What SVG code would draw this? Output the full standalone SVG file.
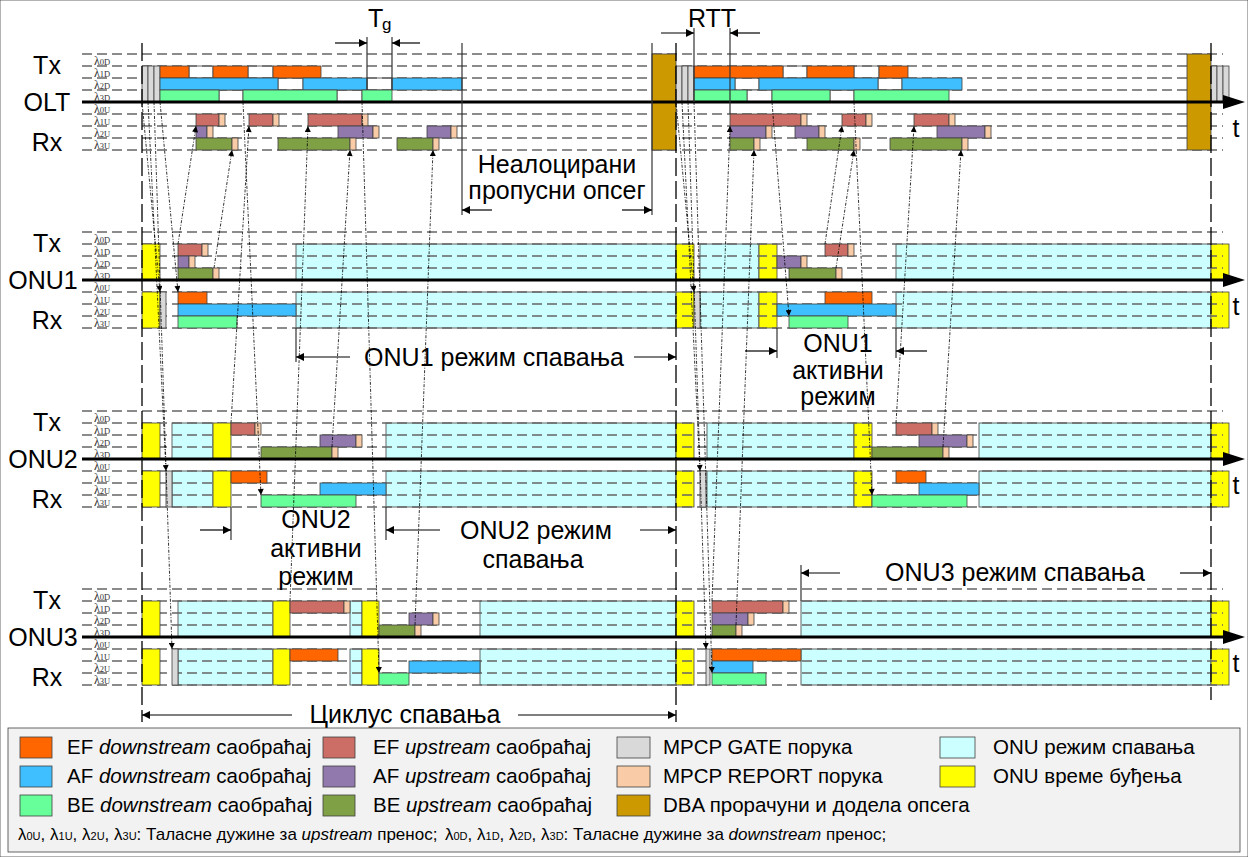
<svg xmlns="http://www.w3.org/2000/svg" width="1248" height="857" viewBox="0 0 1248 857">
<defs>
<style>
.dl{stroke:#666;stroke-width:1.3;stroke-dasharray:10 5;fill:none}
.ax{stroke:#000;stroke-width:3;fill:none}
.vd{stroke:#000;stroke-width:1.3;stroke-dasharray:18 5;fill:none}
.vs{stroke:#333;stroke-width:1.2;fill:none}
.cn{stroke:#000;stroke-width:0.8;stroke-dasharray:3 1.5 1 1.5;fill:none}
.an{stroke:#000;stroke-width:1.2;fill:none}
rect{stroke:#404040;stroke-width:0.8}
.o{fill:#FF6600}.bl{fill:#3FBFFF}.g{fill:#66FF99}
.r{fill:#CC6E66}.p{fill:#9179AE}.ol{fill:#80A045}
.gy{fill:#D9D9D9}.pc{fill:#F9CBA6}.db{fill:#CC9900}
.cy{fill:#CCFFFF}.y{fill:#FFFF00}.w{fill:#FFFFFF}
.big{font-family:"Liberation Sans",Arial,sans-serif;font-size:25px;fill:#000}
.lam{font-family:"Liberation Serif","Times New Roman",serif;font-size:12px;fill:#333}
.sub{font-size:8.5px}
.lg{font-family:"Liberation Sans",Arial,sans-serif;font-size:20.5px;fill:#000}
.lg4{font-family:"Liberation Sans",Arial,sans-serif;font-size:17px;fill:#000}
.s4{font-size:11px}
.it{font-style:italic}
</style>
<marker id="ah" viewBox="0 0 10 10" refX="10" refY="5" markerWidth="7" markerHeight="6" markerUnits="userSpaceOnUse" orient="auto"><path d="M0,0 L10,5 L0,10 z" fill="#000"/></marker>
<marker id="ha" viewBox="0 0 10 10" refX="10" refY="5" markerWidth="11" markerHeight="8" markerUnits="userSpaceOnUse" orient="auto"><path d="M0,0 L10,5 L0,10 z" fill="#000"/></marker>
</defs>
<rect x="0" y="0" width="1248" height="857" fill="#fff" stroke="none"/>

<!-- OLT -->
<g id="olt">
<rect class="w" x="189" y="66" width="24" height="12"/><rect class="w" x="248" y="66" width="25" height="12"/>
<rect class="w" x="278" y="78" width="25" height="12"/><rect class="w" x="367" y="78" width="25" height="12"/>
<rect class="w" x="219" y="90" width="24" height="12"/><rect class="w" x="337" y="90" width="25" height="12"/>
<rect class="w" x="783" y="66" width="24" height="12"/><rect class="w" x="854" y="66" width="25" height="12"/>
<rect class="w" x="735" y="78" width="24" height="12"/><rect class="w" x="878" y="78" width="24" height="12"/>
<rect class="w" x="747" y="90" width="25" height="12"/><rect class="w" x="830" y="90" width="24" height="12"/>
<g id="olt-lines">
<line class="dl" x1="82" y1="54" x2="1223" y2="54"/><line class="dl" x1="82" y1="66" x2="1223" y2="66"/>
<line class="dl" x1="82" y1="78" x2="1223" y2="78"/><line class="dl" x1="82" y1="90" x2="1223" y2="90"/>
<line class="dl" x1="82" y1="114" x2="1223" y2="114"/><line class="dl" x1="82" y1="126" x2="1223" y2="126"/>
<line class="dl" x1="82" y1="138" x2="1223" y2="138"/><line class="dl" x1="82" y1="150" x2="1223" y2="150"/>
</g>
<rect class="gy" x="142" y="66" width="6" height="36"/><rect class="gy" x="148" y="66" width="6" height="36"/><rect class="gy" x="154" y="66" width="6" height="36"/>
<rect class="o" x="160" y="66" width="29" height="12"/><rect class="o" x="213" y="66" width="35" height="12"/><rect class="o" x="273" y="66" width="48" height="12"/>
<rect class="bl" x="160" y="78" width="118" height="12"/><rect class="bl" x="303" y="78" width="64" height="12"/><rect class="bl" x="392" y="78" width="70" height="12"/>
<rect class="g" x="160" y="90" width="59" height="12"/><rect class="g" x="243" y="90" width="94" height="12"/><rect class="g" x="362" y="90" width="30" height="12"/>
<rect class="r" x="196" y="114" width="23" height="12"/><rect class="pc" x="219" y="114" width="6" height="12"/>
<rect class="r" x="249" y="114" width="24" height="12"/><rect class="pc" x="273" y="114" width="6" height="12"/>
<rect class="r" x="308" y="114" width="54" height="12"/><rect class="pc" x="362" y="114" width="6" height="12"/>
<rect class="p" x="196" y="126" width="11" height="12"/><rect class="pc" x="207" y="126" width="6" height="12"/>
<rect class="p" x="338" y="126" width="35" height="12"/><rect class="pc" x="373" y="126" width="6" height="12"/>
<rect class="p" x="427" y="126" width="24" height="12"/><rect class="pc" x="451" y="126" width="6" height="12"/>
<rect class="ol" x="196" y="138" width="36" height="12"/><rect class="pc" x="232" y="138" width="6" height="12"/>
<rect class="ol" x="278" y="138" width="72" height="12"/><rect class="pc" x="350" y="138" width="6" height="12"/>
<rect class="ol" x="397" y="138" width="36" height="12"/><rect class="pc" x="433" y="138" width="6" height="12"/>
<rect class="db" x="652" y="54" width="24" height="96"/>
<rect class="gy" x="676" y="66" width="6" height="36"/><rect class="gy" x="682" y="66" width="6" height="36"/><rect class="gy" x="688" y="66" width="6" height="36"/>
<rect class="o" x="694" y="66" width="89" height="12"/><rect class="o" x="807" y="66" width="47" height="12"/><rect class="o" x="879" y="66" width="29" height="12"/>
<rect class="bl" x="694" y="78" width="41" height="12"/><rect class="bl" x="759" y="78" width="119" height="12"/><rect class="bl" x="902" y="78" width="60" height="12"/>
<rect class="g" x="694" y="90" width="53" height="12"/><rect class="g" x="772" y="90" width="58" height="12"/><rect class="g" x="854" y="90" width="95" height="12"/>
<rect class="r" x="730" y="114" width="71" height="12"/><rect class="pc" x="801" y="114" width="6" height="12"/>
<rect class="r" x="842" y="114" width="24" height="12"/><rect class="pc" x="866" y="114" width="6" height="12"/>
<rect class="r" x="914" y="114" width="35" height="12"/><rect class="pc" x="949" y="114" width="6" height="12"/>
<rect class="p" x="730" y="126" width="36" height="12"/><rect class="pc" x="766" y="126" width="6" height="12"/>
<rect class="p" x="795" y="126" width="24" height="12"/><rect class="pc" x="819" y="126" width="6" height="12"/>
<rect class="p" x="937" y="126" width="48" height="12"/><rect class="pc" x="985" y="126" width="6" height="12"/>
<rect class="ol" x="730" y="138" width="24" height="12"/><rect class="pc" x="754" y="138" width="6" height="12"/>
<rect class="ol" x="807" y="138" width="47" height="12"/><rect class="pc" x="854" y="138" width="6" height="12"/>
<rect class="ol" x="890" y="138" width="72" height="12"/><rect class="pc" x="962" y="138" width="6" height="12"/>
<rect class="db" x="1187" y="54" width="24" height="96"/>
<rect class="gy" x="1211" y="66" width="6" height="36"/><rect class="gy" x="1217" y="66" width="6" height="36"/><rect class="gy" x="1223" y="66" width="6" height="36"/>
<line class="ax" x1="82" y1="102" x2="1225" y2="102"/><polygon points="1223,95 1245,102 1223,109" fill="#000"/>
<text class="big" x="47" y="74" text-anchor="middle">Tx</text>
<text class="big" x="47" y="111" text-anchor="middle">OLT</text>
<text class="big" x="47" y="151" text-anchor="middle">Rx</text>
<text class="big" x="1236" y="137" text-anchor="middle">t</text>
<text class="lam" x="94" y="65">λ<tspan class="sub">0D</tspan></text>
<text class="lam" x="94" y="77">λ<tspan class="sub">1D</tspan></text>
<text class="lam" x="94" y="89">λ<tspan class="sub">2D</tspan></text>
<text class="lam" x="94" y="101">λ<tspan class="sub">3D</tspan></text>
<text class="lam" x="94" y="113">λ<tspan class="sub">0U</tspan></text>
<text class="lam" x="94" y="125">λ<tspan class="sub">1U</tspan></text>
<text class="lam" x="94" y="137">λ<tspan class="sub">2U</tspan></text>
<text class="lam" x="94" y="149">λ<tspan class="sub">3U</tspan></text>
</g>

<!-- ONU1 -->
<g id="onu1">
<rect class="cy" x="296" y="244" width="380" height="36"/><rect class="cy" x="296" y="292" width="380" height="36"/>
<rect class="y" x="676" y="244" width="18" height="36"/><rect class="y" x="676" y="292" width="18" height="36"/>
<rect class="cy" x="700" y="244" width="59" height="36"/><rect class="cy" x="700" y="292" width="59" height="36"/>
<rect class="y" x="759" y="244" width="18" height="36"/><rect class="y" x="759" y="292" width="18" height="36"/>
<rect class="cy" x="896" y="244" width="315" height="36"/><rect class="cy" x="896" y="292" width="315" height="36"/>
<rect class="y" x="1211" y="244" width="18" height="36"/><rect class="y" x="1211" y="292" width="18" height="36"/>
<g id="onu1-lines">
<line class="dl" x1="82" y1="232" x2="1223" y2="232"/><line class="dl" x1="82" y1="244" x2="1223" y2="244"/>
<line class="dl" x1="82" y1="256" x2="1223" y2="256"/><line class="dl" x1="82" y1="268" x2="1223" y2="268"/>
<line class="dl" x1="82" y1="292" x2="1223" y2="292"/><line class="dl" x1="82" y1="304" x2="1223" y2="304"/>
<line class="dl" x1="82" y1="316" x2="1223" y2="316"/><line class="dl" x1="82" y1="328" x2="1223" y2="328"/>
</g>
<rect class="y" x="142" y="244" width="18" height="36"/><rect class="y" x="142" y="292" width="18" height="36"/>
<rect class="gy" x="160" y="292" width="6" height="36"/>
<rect class="gy" x="694" y="292" width="6" height="36"/>
<rect class="r" x="178" y="244" width="24" height="12"/><rect class="pc" x="202" y="244" width="6" height="12"/>
<rect class="p" x="178" y="256" width="11" height="12"/><rect class="pc" x="189" y="256" width="6" height="12"/>
<rect class="ol" x="178" y="268" width="35" height="12"/><rect class="pc" x="213" y="268" width="6" height="12"/>
<rect class="o" x="178" y="292" width="29" height="12"/>
<rect class="bl" x="178" y="304" width="118" height="12"/>
<rect class="g" x="178" y="316" width="59" height="12"/>
<rect class="p" x="777" y="256" width="24" height="12"/><rect class="pc" x="801" y="256" width="6" height="12"/>
<rect class="ol" x="789" y="268" width="47" height="12"/><rect class="pc" x="836" y="268" width="6" height="12"/>
<rect class="r" x="825" y="244" width="23" height="12"/><rect class="pc" x="848" y="244" width="6" height="12"/>
<rect class="o" x="825" y="292" width="47" height="12"/>
<rect class="bl" x="777" y="304" width="119" height="12"/>
<rect class="g" x="789" y="316" width="59" height="12"/>
<line class="ax" x1="82" y1="280" x2="1225" y2="280"/><polygon points="1223,273 1245,280 1223,287" fill="#000"/>
<text class="big" x="47" y="252" text-anchor="middle">Tx</text>
<text class="big" x="43" y="289" text-anchor="middle">ONU1</text>
<text class="big" x="47" y="329" text-anchor="middle">Rx</text>
<text class="big" x="1236" y="315" text-anchor="middle">t</text>
<text class="lam" x="94" y="243">λ<tspan class="sub">0D</tspan></text>
<text class="lam" x="94" y="255">λ<tspan class="sub">1D</tspan></text>
<text class="lam" x="94" y="267">λ<tspan class="sub">2D</tspan></text>
<text class="lam" x="94" y="279">λ<tspan class="sub">3D</tspan></text>
<text class="lam" x="94" y="291">λ<tspan class="sub">0U</tspan></text>
<text class="lam" x="94" y="303">λ<tspan class="sub">1U</tspan></text>
<text class="lam" x="94" y="315">λ<tspan class="sub">2U</tspan></text>
<text class="lam" x="94" y="327">λ<tspan class="sub">3U</tspan></text>
</g>

<!-- ONU2 -->
<g id="onu2">
<rect class="cy" x="172" y="423" width="41" height="36"/><rect class="cy" x="172" y="471" width="41" height="36"/>
<rect class="cy" x="386" y="423" width="290" height="36"/><rect class="cy" x="386" y="471" width="290" height="36"/>
<rect class="y" x="676" y="423" width="18" height="36"/><rect class="y" x="676" y="471" width="18" height="36"/>
<rect class="cy" x="707" y="423" width="147" height="36"/><rect class="cy" x="707" y="471" width="147" height="36"/>
<rect class="y" x="854" y="423" width="18" height="36"/><rect class="y" x="854" y="471" width="18" height="36"/>
<rect class="cy" x="979" y="423" width="232" height="36"/><rect class="cy" x="979" y="471" width="232" height="36"/>
<rect class="y" x="1211" y="423" width="18" height="36"/><rect class="y" x="1211" y="471" width="18" height="36"/>
<g id="onu2-lines">
<line class="dl" x1="82" y1="411" x2="1223" y2="411"/><line class="dl" x1="82" y1="423" x2="1223" y2="423"/>
<line class="dl" x1="82" y1="435" x2="1223" y2="435"/><line class="dl" x1="82" y1="447" x2="1223" y2="447"/>
<line class="dl" x1="82" y1="471" x2="1223" y2="471"/><line class="dl" x1="82" y1="483" x2="1223" y2="483"/>
<line class="dl" x1="82" y1="495" x2="1223" y2="495"/><line class="dl" x1="82" y1="507" x2="1223" y2="507"/>
</g>
<rect class="y" x="142" y="423" width="18" height="36"/><rect class="y" x="142" y="471" width="18" height="36"/>
<rect class="gy" x="166" y="471" width="6" height="36"/>
<rect class="y" x="213" y="423" width="18" height="36"/><rect class="y" x="213" y="471" width="18" height="36"/>
<rect class="gy" x="700" y="471" width="6" height="36"/>
<rect class="r" x="231" y="423" width="24" height="12"/><rect class="pc" x="255" y="423" width="6" height="12"/>
<rect class="p" x="320" y="435" width="36" height="12"/><rect class="pc" x="356" y="435" width="6" height="12"/>
<rect class="ol" x="261" y="447" width="71" height="12"/><rect class="pc" x="332" y="447" width="6" height="12"/>
<rect class="o" x="231" y="471" width="36" height="12"/>
<rect class="bl" x="320" y="483" width="66" height="12"/>
<rect class="g" x="261" y="495" width="95" height="12"/>
<rect class="r" x="896" y="423" width="36" height="12"/><rect class="pc" x="932" y="423" width="6" height="12"/>
<rect class="p" x="919" y="435" width="48" height="12"/><rect class="pc" x="967" y="435" width="6" height="12"/>
<rect class="ol" x="872" y="447" width="71" height="12"/><rect class="pc" x="943" y="447" width="6" height="12"/>
<rect class="o" x="896" y="471" width="30" height="12"/>
<rect class="bl" x="919" y="483" width="60" height="12"/>
<rect class="g" x="872" y="495" width="95" height="12"/>
<line class="ax" x1="82" y1="459" x2="1225" y2="459"/><polygon points="1223,452 1245,459 1223,466" fill="#000"/>
<text class="big" x="47" y="431" text-anchor="middle">Tx</text>
<text class="big" x="43" y="468" text-anchor="middle">ONU2</text>
<text class="big" x="47" y="508" text-anchor="middle">Rx</text>
<text class="big" x="1236" y="494" text-anchor="middle">t</text>
<text class="lam" x="94" y="422">λ<tspan class="sub">0D</tspan></text>
<text class="lam" x="94" y="434">λ<tspan class="sub">1D</tspan></text>
<text class="lam" x="94" y="446">λ<tspan class="sub">2D</tspan></text>
<text class="lam" x="94" y="458">λ<tspan class="sub">3D</tspan></text>
<text class="lam" x="94" y="470">λ<tspan class="sub">0U</tspan></text>
<text class="lam" x="94" y="482">λ<tspan class="sub">1U</tspan></text>
<text class="lam" x="94" y="494">λ<tspan class="sub">2U</tspan></text>
<text class="lam" x="94" y="506">λ<tspan class="sub">3U</tspan></text>
</g>

<!-- ONU3 -->
<g id="onu3">
<rect class="cy" x="178" y="601" width="95" height="36"/><rect class="cy" x="178" y="649" width="95" height="36"/>
<rect class="cy" x="350" y="601" width="12" height="36"/><rect class="cy" x="350" y="649" width="12" height="36"/>
<rect class="cy" x="480" y="601" width="196" height="36"/><rect class="cy" x="480" y="649" width="196" height="36"/>
<rect class="y" x="676" y="601" width="18" height="36"/><rect class="y" x="676" y="649" width="18" height="36"/>
<rect class="cy" x="801" y="601" width="410" height="36"/><rect class="cy" x="801" y="649" width="410" height="36"/>
<rect class="y" x="1211" y="601" width="18" height="36"/><rect class="y" x="1211" y="649" width="18" height="36"/>
<g id="onu3-lines">
<line class="dl" x1="82" y1="589" x2="1223" y2="589"/><line class="dl" x1="82" y1="601" x2="1223" y2="601"/>
<line class="dl" x1="82" y1="613" x2="1223" y2="613"/><line class="dl" x1="82" y1="625" x2="1223" y2="625"/>
<line class="dl" x1="82" y1="649" x2="1223" y2="649"/><line class="dl" x1="82" y1="661" x2="1223" y2="661"/>
<line class="dl" x1="82" y1="673" x2="1223" y2="673"/><line class="dl" x1="82" y1="685" x2="1223" y2="685"/>
</g>
<rect class="y" x="142" y="601" width="18" height="36"/><rect class="y" x="142" y="649" width="18" height="36"/>
<rect class="gy" x="172" y="649" width="6" height="36"/>
<rect class="y" x="273" y="601" width="17" height="36"/><rect class="y" x="273" y="649" width="17" height="36"/>
<rect class="y" x="362" y="601" width="17" height="36"/><rect class="y" x="362" y="649" width="17" height="36"/>
<rect class="gy" x="706" y="649" width="4" height="36"/>
<rect class="r" x="290" y="601" width="54" height="12"/><rect class="pc" x="344" y="601" width="6" height="12"/>
<rect class="ol" x="379" y="625" width="36" height="12"/><rect class="pc" x="415" y="625" width="6" height="12"/>
<rect class="p" x="409" y="613" width="24" height="12"/><rect class="pc" x="433" y="613" width="6" height="12"/>
<rect class="o" x="290" y="649" width="48" height="12"/>
<rect class="g" x="379" y="673" width="30" height="12"/>
<rect class="bl" x="409" y="661" width="71" height="12"/>
<rect class="r" x="712" y="601" width="71" height="12"/><rect class="pc" x="783" y="601" width="6" height="12"/>
<rect class="p" x="712" y="613" width="36" height="12"/><rect class="pc" x="748" y="613" width="6" height="12"/>
<rect class="ol" x="712" y="625" width="24" height="12"/><rect class="pc" x="736" y="625" width="6" height="12"/>
<rect class="o" x="712" y="649" width="89" height="12"/>
<rect class="bl" x="712" y="661" width="41" height="12"/>
<rect class="g" x="712" y="673" width="54" height="12"/>
<line class="ax" x1="82" y1="637" x2="1225" y2="637"/><polygon points="1223,630 1245,637 1223,644" fill="#000"/>
<text class="big" x="47" y="609" text-anchor="middle">Tx</text>
<text class="big" x="43" y="646" text-anchor="middle">ONU3</text>
<text class="big" x="47" y="686" text-anchor="middle">Rx</text>
<text class="big" x="1236" y="672" text-anchor="middle">t</text>
<text class="lam" x="94" y="600">λ<tspan class="sub">0D</tspan></text>
<text class="lam" x="94" y="612">λ<tspan class="sub">1D</tspan></text>
<text class="lam" x="94" y="624">λ<tspan class="sub">2D</tspan></text>
<text class="lam" x="94" y="636">λ<tspan class="sub">3D</tspan></text>
<text class="lam" x="94" y="648">λ<tspan class="sub">0U</tspan></text>
<text class="lam" x="94" y="660">λ<tspan class="sub">1U</tspan></text>
<text class="lam" x="94" y="672">λ<tspan class="sub">2U</tspan></text>
<text class="lam" x="94" y="684">λ<tspan class="sub">3U</tspan></text>
</g>

<!-- vertical guides -->
<g id="guides">
<line class="vd" x1="142" y1="43" x2="142" y2="722"/>
<line class="vd" x1="676" y1="43" x2="676" y2="722"/>
<line class="vd" x1="1211" y1="43" x2="1211" y2="700"/>
<line class="vs" x1="462" y1="43" x2="462" y2="215"/>
<line class="vs" x1="652" y1="43" x2="652" y2="215"/>
<line class="vs" x1="367" y1="37" x2="367" y2="90"/>
<line class="vs" x1="392" y1="37" x2="392" y2="90"/>
<line class="vs" x1="694" y1="28" x2="694" y2="102"/>
<line class="vs" x1="730" y1="28" x2="730" y2="114"/>
<line class="vs" x1="296" y1="328" x2="296" y2="362"/>
<line class="vs" x1="777" y1="328" x2="777" y2="358"/>
<line class="vs" x1="896" y1="328" x2="896" y2="358"/>
<line class="vs" x1="231" y1="507" x2="231" y2="540"/>
<line class="vs" x1="386" y1="507" x2="386" y2="540"/>
<line class="vs" x1="801" y1="565" x2="801" y2="601"/>
</g>

<!-- annotations -->
<g id="annotations">
<line class="an" x1="335" y1="43" x2="367" y2="43" marker-end="url(#ha)"/>
<line class="an" x1="420" y1="43" x2="392" y2="43" marker-end="url(#ha)"/>
<text class="big" x="368" y="27">T</text><text class="big" x="382" y="30" style="font-size:17px">g</text>
<line class="an" x1="661" y1="33" x2="694" y2="33" marker-end="url(#ha)"/>
<line class="an" x1="760" y1="33" x2="730" y2="33" marker-end="url(#ha)"/>
<text class="big" x="712" y="27" text-anchor="middle">RTT</text>
<text class="big" x="557" y="173" text-anchor="middle">Неалоцирани</text>
<text class="big" x="557" y="199" text-anchor="middle">пропусни опсег</text>
<line class="an" x1="492" y1="210" x2="462" y2="210" marker-end="url(#ha)"/>
<line class="an" x1="622" y1="210" x2="652" y2="210" marker-end="url(#ha)"/>
<line class="an" x1="350" y1="357" x2="296" y2="357" marker-end="url(#ha)"/>
<line class="an" x1="634" y1="357" x2="676" y2="357" marker-end="url(#ha)"/>
<text class="big" x="494" y="366" text-anchor="middle">ONU1 режим спавања</text>
<line class="an" x1="745" y1="351" x2="777" y2="351" marker-end="url(#ha)"/>
<line class="an" x1="927" y1="351" x2="896" y2="351" marker-end="url(#ha)"/>
<text class="big" x="838" y="352" text-anchor="middle">ONU1</text>
<text class="big" x="838" y="379" text-anchor="middle">активни</text>
<text class="big" x="838" y="405" text-anchor="middle">режим</text>
<line class="an" x1="200" y1="530" x2="231" y2="530" marker-end="url(#ha)"/>
<text class="big" x="316" y="528" text-anchor="middle">ONU2</text>
<text class="big" x="316" y="557" text-anchor="middle">активни</text>
<text class="big" x="316" y="585" text-anchor="middle">режим</text>
<line class="an" x1="440" y1="530" x2="386" y2="530" marker-end="url(#ha)"/>
<line class="an" x1="640" y1="530" x2="676" y2="530" marker-end="url(#ha)"/>
<text class="big" x="536" y="539" text-anchor="middle">ONU2 режим</text>
<text class="big" x="533" y="568" text-anchor="middle">спавања</text>
<line class="an" x1="840" y1="573" x2="801" y2="573" marker-end="url(#ha)"/>
<line class="an" x1="1180" y1="573" x2="1211" y2="573" marker-end="url(#ha)"/>
<text class="big" x="1015" y="581" text-anchor="middle">ONU3 режим спавања</text>
<line class="an" x1="292" y1="715" x2="142" y2="715" marker-end="url(#ha)"/>
<line class="an" x1="518" y1="715" x2="676" y2="715" marker-end="url(#ha)"/>
<text class="big" x="405" y="723" text-anchor="middle">Циклус спавања</text>
</g>

<!-- connectors -->
<g id="connectors">
<line class="cn" x1="142" y1="102" x2="160" y2="292" marker-end="url(#ah)"/>
<line class="cn" x1="148" y1="102" x2="166" y2="471" marker-end="url(#ah)"/>
<line class="cn" x1="154" y1="102" x2="172" y2="649" marker-end="url(#ah)"/>
<line class="cn" x1="160" y1="102" x2="178" y2="292" marker-end="url(#ah)"/>
<line class="cn" x1="243" y1="102" x2="261" y2="495" marker-end="url(#ah)"/>
<line class="cn" x1="362" y1="102" x2="379" y2="673" marker-end="url(#ah)"/>
<line class="cn" x1="676" y1="102" x2="694" y2="292" marker-end="url(#ah)"/>
<line class="cn" x1="682" y1="102" x2="700" y2="471" marker-end="url(#ah)"/>
<line class="cn" x1="688" y1="102" x2="706" y2="649" marker-end="url(#ah)"/>
<line class="cn" x1="694" y1="102" x2="712" y2="673" marker-end="url(#ah)"/>
<line class="cn" x1="772" y1="102" x2="789" y2="316" marker-end="url(#ah)"/>
<line class="cn" x1="854" y1="102" x2="872" y2="495" marker-end="url(#ah)"/>
<line class="cn" x1="178" y1="244" x2="196" y2="126" marker-end="url(#ah)"/>
<line class="cn" x1="214" y1="268" x2="232" y2="150" marker-end="url(#ah)"/>
<line class="cn" x1="231" y1="423" x2="249" y2="126" marker-end="url(#ah)"/>
<line class="cn" x1="290" y1="601" x2="308" y2="126" marker-end="url(#ah)"/>
<line class="cn" x1="332" y1="447" x2="350" y2="150" marker-end="url(#ah)"/>
<line class="cn" x1="415" y1="625" x2="433" y2="150" marker-end="url(#ah)"/>
<line class="cn" x1="712" y1="601" x2="730" y2="126" marker-end="url(#ah)"/>
<line class="cn" x1="736" y1="625" x2="754" y2="150" marker-end="url(#ah)"/>
<line class="cn" x1="825" y1="244" x2="842" y2="126" marker-end="url(#ah)"/>
<line class="cn" x1="836" y1="268" x2="854" y2="150" marker-end="url(#ah)"/>
<line class="cn" x1="896" y1="423" x2="914" y2="126" marker-end="url(#ah)"/>
<line class="cn" x1="943" y1="447" x2="961" y2="150" marker-end="url(#ah)"/>
</g>

<!-- legend -->
<g id="legend">
<rect x="8" y="728" width="1232" height="124" fill="#F2F2F2" stroke="#999" stroke-width="1"/>
<rect class="o" x="20" y="737" width="32" height="21"/><text class="lg" x="67" y="754">EF <tspan class="it">downstream</tspan> саобраћај</text>
<rect class="bl" x="20" y="766" width="32" height="21"/><text class="lg" x="67" y="783">AF <tspan class="it">downstream</tspan> саобраћај</text>
<rect class="g" x="20" y="795" width="32" height="21"/><text class="lg" x="67" y="812">BE <tspan class="it">downstream</tspan> саобраћај</text>
<rect class="r" x="323" y="737" width="32" height="21"/><text class="lg" x="373" y="754">EF <tspan class="it">upstream</tspan> саобраћај</text>
<rect class="p" x="323" y="766" width="32" height="21"/><text class="lg" x="373" y="783">AF <tspan class="it">upstream</tspan> саобраћај</text>
<rect class="ol" x="323" y="795" width="32" height="21"/><text class="lg" x="373" y="812">BE <tspan class="it">upstream</tspan> саобраћај</text>
<rect class="gy" x="617" y="737" width="33" height="21"/><text class="lg" x="663" y="754">MPCP GATE порука</text>
<rect class="pc" x="617" y="766" width="33" height="21"/><text class="lg" x="663" y="783">MPCP REPORT порука</text>
<rect class="db" x="617" y="795" width="33" height="21"/><text class="lg" x="663" y="812">DBA прорачуни и додела опсега</text>
<rect class="cy" x="940" y="737" width="35" height="21"/><text class="lg" x="993" y="754">ONU режим спавања</text>
<rect class="y" x="940" y="766" width="35" height="21"/><text class="lg" x="993" y="783">ONU време буђења</text>
<text class="lg4" x="18" y="840">λ<tspan class="s4">0U</tspan>, λ<tspan class="s4">1U</tspan>, λ<tspan class="s4">2U</tspan>, λ<tspan class="s4">3U</tspan>: Таласне дужине за <tspan class="it">upstream</tspan> пренос;</text>
<text class="lg4" x="445" y="840">λ<tspan class="s4">0D</tspan>, λ<tspan class="s4">1D</tspan>, λ<tspan class="s4">2D</tspan>, λ<tspan class="s4">3D</tspan>: Таласне дужине за <tspan class="it">downstream</tspan> пренос;</text>
</g>
</svg>
